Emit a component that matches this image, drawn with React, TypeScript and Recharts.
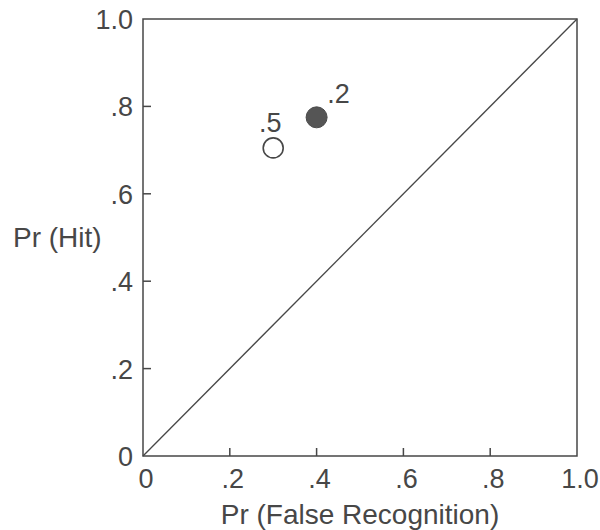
import React from 'react';
import {
  ScatterChart,
  Scatter,
  XAxis,
  YAxis,
  ReferenceArea,
  ReferenceLine,
} from 'recharts';

// values
const axisTicks = [0, 0.2, 0.4, 0.6, 0.8, 1.0];
const innerTicks = [0.2, 0.4, 0.6, 0.8];
const falseRecognition = [0.3, 0.4];
const hitRate = [0.705, 0.775];
const delayLabels = ['.5', '.2'];

const openPoint = [{ x: falseRecognition[0], y: hitRate[0], label: delayLabels[0] }];
const filledPoint = [{ x: falseRecognition[1], y: hitRate[1], label: delayLabels[1] }];

const INK = '#474747';
const FONT = '"Liberation Sans", Arial, sans-serif';
const TICK_LEN = 8;

const fmt = (v: number) => (v === 0 ? '0' : v === 1 ? '1.0' : v.toFixed(1).replace(/^0/, ''));

function XTick(props: any) {
  const { x, y, payload } = props;
  return (
    <text x={x + 3} y={y + 32} textAnchor="middle" fill={INK} fontSize={27} fontFamily={FONT}>
      {fmt(payload.value)}
    </text>
  );
}

function YTick(props: any) {
  const { x, y, payload } = props;
  return (
    <text x={x - 10} y={y + 10} textAnchor="end" fill={INK} fontSize={27} fontFamily={FONT}>
      {fmt(payload.value)}
    </text>
  );
}

// short inward tick marks, drawn from the reference line's own endpoints
const BottomTick = (props: any) => {
  const { x1, y1, y2 } = props;
  const yb = Math.max(y1, y2);
  return <line x1={x1} x2={x1} y1={yb} y2={yb - TICK_LEN} stroke={INK} strokeWidth={1.5} />;
};

const LeftTick = (props: any) => {
  const { x1, x2, y1 } = props;
  const xl = Math.min(x1, x2);
  return <line x1={xl} x2={xl + TICK_LEN} y1={y1} y2={y1} stroke={INK} strokeWidth={1.5} />;
};

const OpenDot = (props: any) => {
  const { cx, cy, payload } = props;
  return (
    <g>
      <circle cx={cx} cy={cy} r={10} fill="#fff" stroke={INK} strokeWidth={1.6} />
      <text x={cx - 3} y={cy - 16} textAnchor="middle" fill={INK} fontSize={27} fontFamily={FONT}>
        {payload.label}
      </text>
    </g>
  );
};

const FilledDot = (props: any) => {
  const { cx, cy, payload } = props;
  return (
    <g>
      <circle cx={cx} cy={cy} r={10.5} fill="#555" stroke="#4a4a4a" strokeWidth={1} />
      <text x={cx + 22} y={cy - 14} textAnchor="middle" fill={INK} fontSize={27} fontFamily={FONT}>
        {payload.label}
      </text>
    </g>
  );
};

export default function App() {
  return (
    <div style={{ position: 'absolute', left: 0, top: 0, background: '#fff' }}>
      <ScatterChart width={600} height={530} margin={{ top: 19, right: 23, bottom: 0, left: 0 }}>
        <XAxis
          type="number"
          dataKey="x"
          domain={[0, 1]}
          ticks={axisTicks}
          tick={<XTick />}
          tickLine={false}
          axisLine={false}
          tickSize={0}
          tickMargin={0}
          height={74}
          interval={0}
          label={{
            value: 'Pr (False Recognition)',
            position: 'insideBottom',
            offset: 6,
            fill: INK,
            fontSize: 28,
            fontFamily: FONT,
          }}
        />
        <YAxis
          type="number"
          dataKey="y"
          domain={[0, 1]}
          ticks={axisTicks}
          tick={<YTick />}
          tickLine={false}
          axisLine={false}
          tickSize={0}
          tickMargin={0}
          width={143}
          interval={0}
          label={{
            value: 'Pr (Hit)',
            position: 'insideLeft',
            offset: 13,
            fill: INK,
            fontSize: 28,
            fontFamily: FONT,
          }}
        />
        <ReferenceArea x1={0} x2={1} y1={0} y2={1} fill="none" stroke={INK} strokeWidth={1.5} fillOpacity={0} />
        {innerTicks.map((t) => (
          <ReferenceLine key={'x' + t} x={t} shape={<BottomTick />} />
        ))}
        {innerTicks.map((t) => (
          <ReferenceLine key={'y' + t} y={t} shape={<LeftTick />} />
        ))}
        <ReferenceLine
          segment={[
            { x: 0, y: 0 },
            { x: 1, y: 1 },
          ]}
          stroke={INK}
          strokeWidth={1.3}
        />
        <Scatter data={openPoint} shape={<OpenDot />} isAnimationActive={false} />
        <Scatter data={filledPoint} shape={<FilledDot />} isAnimationActive={false} />
      </ScatterChart>
    </div>
  );
}
